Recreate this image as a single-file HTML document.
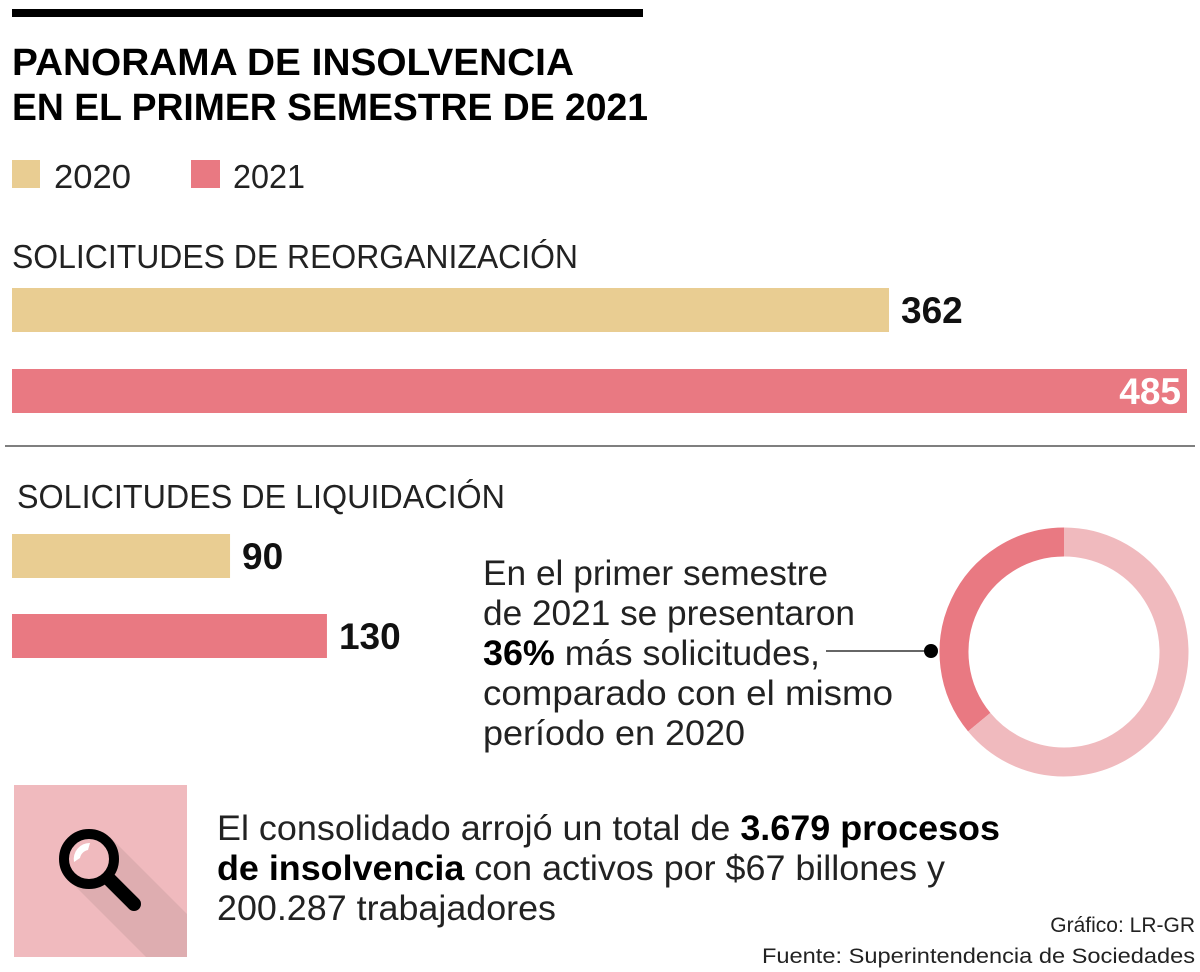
<!DOCTYPE html>
<html><head><meta charset="utf-8"><style>
html,body{margin:0;padding:0;background:#fff;width:1200px;height:972px;overflow:hidden}
svg{display:block;font-family:"Liberation Sans",sans-serif}
</style></head><body>
<svg id="chart" width="1200" height="972" viewBox="0 0 1200 972">
<rect x="12" y="9" width="631" height="8" fill="#000"/>
<text x="12" y="75" font-size="38" font-weight="bold" textLength="562" lengthAdjust="spacingAndGlyphs">PANORAMA DE INSOLVENCIA</text>
<text x="12" y="120" font-size="38" font-weight="bold" textLength="636" lengthAdjust="spacingAndGlyphs">EN EL PRIMER SEMESTRE DE 2021</text>
<g>
<rect x="12" y="160" width="28" height="28" fill="#E9CD92"/>
<text x="54" y="188" font-size="33" fill="#222" textLength="77" lengthAdjust="spacingAndGlyphs">2020</text>
<rect x="191" y="160" width="29" height="28" fill="#E97982"/>
<text x="233" y="188" font-size="33" fill="#222" textLength="72" lengthAdjust="spacingAndGlyphs">2021</text>
</g>
<text x="12" y="268" font-size="33" fill="#222" textLength="566" lengthAdjust="spacingAndGlyphs">SOLICITUDES DE REORGANIZACIÓN</text>
<line x1="5" y1="446" x2="1195" y2="446" stroke="#333" stroke-width="1.2"/>
<text x="17" y="508" font-size="33" fill="#222" textLength="488" lengthAdjust="spacingAndGlyphs">SOLICITUDES DE LIQUIDACIÓN</text>
<g id="bars"></g>
<g font-size="35" fill="#222">
<text x="483" y="585" textLength="345" lengthAdjust="spacingAndGlyphs">En el primer semestre</text>
<text x="483" y="625" textLength="372" lengthAdjust="spacingAndGlyphs">de 2021 se presentaron</text>
<text x="483" y="665" textLength="337" lengthAdjust="spacingAndGlyphs"><tspan font-weight="bold" fill="#000">36%</tspan> más solicitudes,</text>
<text x="483" y="705" textLength="410" lengthAdjust="spacingAndGlyphs">comparado con el mismo</text>
<text x="483" y="745" textLength="262" lengthAdjust="spacingAndGlyphs">período en 2020</text>
</g>
<line x1="826" y1="651" x2="931" y2="651" stroke="#333" stroke-width="1.5"/>
<g id="donut"></g>
<circle cx="931" cy="651" r="7" fill="#000"/>
<g>
<rect x="14" y="785" width="173" height="172" fill="#F0BABE"/>
<polygon points="68,879 110,837 187,914 187,957 146,957" fill="#DEADB0"/>
<line x1="106" y1="876" x2="134" y2="904" stroke="#000" stroke-width="14" stroke-linecap="round"/>
<circle cx="89" cy="859" r="25" fill="#F0BABE" stroke="#000" stroke-width="10"/>
<path d="M74,862 A16,16 0 0 1 90,843 L88,850 A10,10 0 0 0 80,858 Z" fill="#fff"/>
</g>
<g font-size="35" fill="#222">
<text x="217" y="840" textLength="783" lengthAdjust="spacingAndGlyphs">El consolidado arrojó un total de <tspan font-weight="bold" fill="#000">3.679 procesos</tspan></text>
<text x="217" y="880" textLength="728" lengthAdjust="spacingAndGlyphs"><tspan font-weight="bold" fill="#000">de insolvencia</tspan> con activos por $67 billones y</text>
<text x="217" y="920" textLength="339" lengthAdjust="spacingAndGlyphs">200.287  trabajadores</text>
</g>
<text x="1195" y="932" font-size="21" fill="#222" text-anchor="end">Gráfico: LR-GR</text>
<text x="1195" y="963" font-size="21" fill="#222" text-anchor="end" textLength="433" lengthAdjust="spacingAndGlyphs">Fuente: Superintendencia de Sociedades</text>
</svg>
<script>
const groups = ["reorganizacion","liquidacion"];
const values2020 = [362, 90];
const values2021 = [485, 130];
const donutShare = [36, 64];
const NS="http://www.w3.org/2000/svg";
const maxV=485, x0=12, pxWidth=1175;
const xs=v=>v/maxV*pxWidth;
const rowY={reorganizacion:[288,369],liquidacion:[534,614]};
const g=document.getElementById('bars');
function mk(t,a){const e=document.createElementNS(NS,t);for(const k in a)e.setAttribute(k,a[k]);return e;}
groups.forEach((grp,i)=>{
  [[values2020[i],'#E9CD92','2020'],[values2021[i],'#E97982','2021']].forEach((s,j)=>{
    const y=rowY[grp][j], w=xs(s[0]);
    const r=mk('rect',{x:x0,y:y,width:w,height:44,fill:s[1]});
    
    
    g.appendChild(r);
    const inside = w>1100;
    const t=mk('text',{x:inside?x0+w-6:x0+w+12,y:y+35,'font-size':37,'font-weight':'bold',fill:inside?'#fff':'#111','text-anchor':inside?'end':'start'});
    
    
    t.textContent=s[0];
    g.appendChild(t);
  });
});
const d=document.getElementById('donut');
const cx=1064,cy=652,R=110,sw=29;
const total=donutShare[0]+donutShare[1];
let start=0;
[['#E97982',-1],['#F0BABE',-1]].forEach((c,i)=>{
  const a0=start, a1=start+donutShare[i]/total*2*Math.PI;
  start=a1;
  // counterclockwise from top
  const p=a=>[cx-R*Math.sin(a), cy-R*Math.cos(a)];
  const [x1,y1]=p(a0),[x2,y2]=p(a1);
  const large=(a1-a0)>Math.PI?1:0;
  const path=mk('path',{d:`M${x1},${y1} A${R},${R} 0 ${large} 0 ${x2},${y2}`,fill:'none',stroke:c[0],'stroke-width':sw});
  
  
  d.appendChild(path);
});
</script>
</body></html>
